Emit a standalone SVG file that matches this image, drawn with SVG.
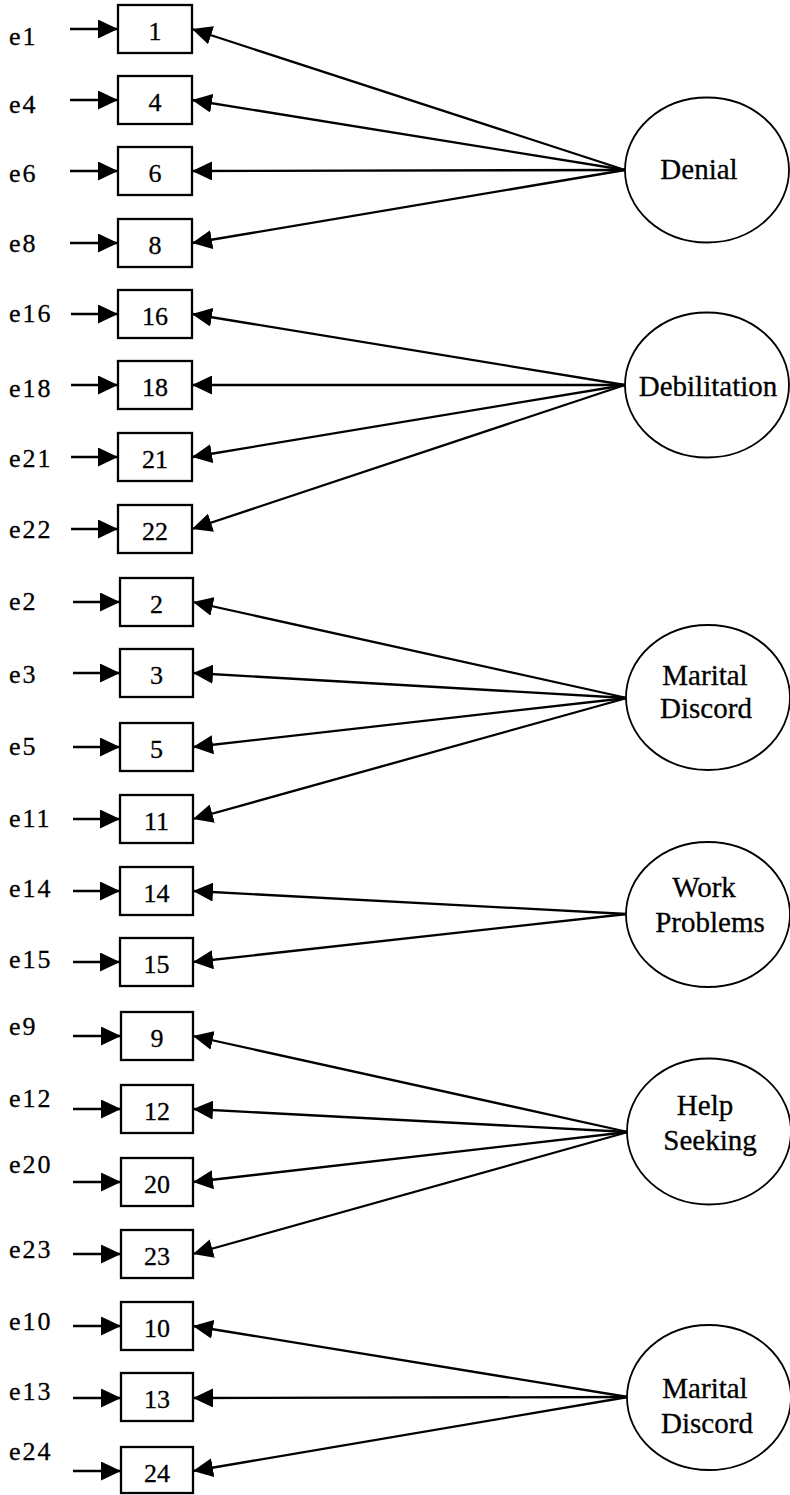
<svg xmlns="http://www.w3.org/2000/svg" width="790" height="1495" viewBox="0 0 790 1495">
<style>
.box{fill:#fff;stroke:#000;stroke-width:2.3}
.lat{fill:#fff;stroke:#000;stroke-width:1.8}
.num{font-family:"Liberation Serif","Times New Roman",serif;font-size:26px;text-anchor:middle;fill:#000;stroke:#000;stroke-width:0.3}
.err{font-family:"Liberation Serif","Times New Roman",serif;font-size:26px;letter-spacing:2px;fill:#000;stroke:#000;stroke-width:0.3}
.fac{font-family:"Liberation Serif","Times New Roman",serif;font-size:29px;text-anchor:middle;fill:#000;stroke:#000;stroke-width:0.3}
.c line{stroke:#000;stroke-width:2.3;marker-end:url(#ah)}
</style>
<defs>
<marker id="ah" markerUnits="userSpaceOnUse" markerWidth="21" markerHeight="19" refX="20" refY="9.5" orient="auto">
<path d="M0,0 L20,9.5 L0,19 z" fill="#000"/>
</marker>
</defs>
<rect width="790" height="1495" fill="#fff"/>

<g id="connectors" class="c">
<line x1="70" y1="29" x2="118" y2="29"/>
<line x1="70" y1="100" x2="118" y2="100"/>
<line x1="70" y1="171" x2="118" y2="171"/>
<line x1="70" y1="243" x2="118" y2="243"/>
<line x1="71" y1="314" x2="118" y2="314"/>
<line x1="71" y1="385" x2="118" y2="385"/>
<line x1="71" y1="457" x2="118" y2="457"/>
<line x1="71" y1="529" x2="118" y2="529"/>
<line x1="73" y1="602" x2="120" y2="602"/>
<line x1="73" y1="673" x2="120" y2="673"/>
<line x1="73" y1="747" x2="120" y2="747"/>
<line x1="73" y1="819" x2="120" y2="819"/>
<line x1="73" y1="891" x2="120" y2="891"/>
<line x1="73" y1="962" x2="120" y2="962"/>
<line x1="73" y1="1036" x2="121" y2="1036"/>
<line x1="73" y1="1109" x2="121" y2="1109"/>
<line x1="73" y1="1182" x2="121" y2="1182"/>
<line x1="73" y1="1254" x2="121" y2="1254"/>
<line x1="73" y1="1326" x2="121" y2="1326"/>
<line x1="73" y1="1398" x2="121" y2="1398"/>
<line x1="73" y1="1471" x2="121" y2="1471"/>
<line x1="625" y1="170" x2="192" y2="29"/>
<line x1="625" y1="170" x2="192" y2="100"/>
<line x1="625" y1="170" x2="192" y2="171"/>
<line x1="625" y1="170" x2="192" y2="243"/>
<line x1="625" y1="385" x2="192" y2="314"/>
<line x1="625" y1="385" x2="192" y2="385"/>
<line x1="625" y1="385" x2="192" y2="457"/>
<line x1="625" y1="385" x2="192" y2="529"/>
<line x1="627" y1="698" x2="193" y2="602"/>
<line x1="627" y1="698" x2="193" y2="673"/>
<line x1="627" y1="698" x2="193" y2="747"/>
<line x1="627" y1="698" x2="193" y2="819"/>
<line x1="627" y1="914" x2="193" y2="891"/>
<line x1="627" y1="914" x2="193" y2="962"/>
<line x1="628" y1="1132" x2="193" y2="1036"/>
<line x1="628" y1="1132" x2="193" y2="1109"/>
<line x1="628" y1="1132" x2="193" y2="1182"/>
<line x1="628" y1="1132" x2="193" y2="1254"/>
<line x1="628" y1="1397" x2="193" y2="1326"/>
<line x1="628" y1="1397" x2="193" y2="1398"/>
<line x1="628" y1="1397" x2="193" y2="1471"/>
</g>

<g id="item1"><rect class="box" x="118" y="5" width="74" height="48"/><text class="num" x="155" y="40">1</text><text class="err" x="9" y="45">e1</text></g>
<g id="item4"><rect class="box" x="118" y="76" width="74" height="48"/><text class="num" x="155" y="111">4</text><text class="err" x="9" y="113">e4</text></g>
<g id="item6"><rect class="box" x="118" y="147" width="74" height="48"/><text class="num" x="155" y="182">6</text><text class="err" x="9" y="182">e6</text></g>
<g id="item8"><rect class="box" x="118" y="219" width="74" height="48"/><text class="num" x="155" y="254">8</text><text class="err" x="9" y="252">e8</text></g>
<g id="item16"><rect class="box" x="118" y="290" width="74" height="48"/><text class="num" x="155" y="325">16</text><text class="err" x="9" y="322">e16</text></g>
<g id="item18"><rect class="box" x="118" y="361" width="74" height="48"/><text class="num" x="155" y="396">18</text><text class="err" x="9" y="397">e18</text></g>
<g id="item21"><rect class="box" x="118" y="433" width="74" height="48"/><text class="num" x="155" y="468">21</text><text class="err" x="9" y="467">e21</text></g>
<g id="item22"><rect class="box" x="118" y="505" width="74" height="48"/><text class="num" x="155" y="540">22</text><text class="err" x="9" y="538">e22</text></g>
<g id="item2"><rect class="box" x="120" y="578" width="73" height="48"/><text class="num" x="156.5" y="613">2</text><text class="err" x="9" y="610">e2</text></g>
<g id="item3"><rect class="box" x="120" y="649" width="73" height="48"/><text class="num" x="156.5" y="684">3</text><text class="err" x="9" y="683">e3</text></g>
<g id="item5"><rect class="box" x="120" y="723" width="73" height="48"/><text class="num" x="156.5" y="758">5</text><text class="err" x="9" y="755">e5</text></g>
<g id="item11"><rect class="box" x="120" y="795" width="73" height="48"/><text class="num" x="156.5" y="830">11</text><text class="err" x="9" y="827">e11</text></g>
<g id="item14"><rect class="box" x="120" y="867" width="73" height="48"/><text class="num" x="156.5" y="902">14</text><text class="err" x="9" y="897">e14</text></g>
<g id="item15"><rect class="box" x="120" y="938" width="73" height="48"/><text class="num" x="156.5" y="973">15</text><text class="err" x="9" y="968">e15</text></g>
<g id="item9"><rect class="box" x="121" y="1012" width="72" height="48"/><text class="num" x="157" y="1047">9</text><text class="err" x="9" y="1035">e9</text></g>
<g id="item12"><rect class="box" x="121" y="1085" width="72" height="48"/><text class="num" x="157" y="1120">12</text><text class="err" x="9" y="1107">e12</text></g>
<g id="item20"><rect class="box" x="121" y="1158" width="72" height="48"/><text class="num" x="157" y="1193">20</text><text class="err" x="9" y="1173">e20</text></g>
<g id="item23"><rect class="box" x="121" y="1230" width="72" height="48"/><text class="num" x="157" y="1265">23</text><text class="err" x="9" y="1258">e23</text></g>
<g id="item10"><rect class="box" x="121" y="1302" width="72" height="48"/><text class="num" x="157" y="1337">10</text><text class="err" x="9" y="1330">e10</text></g>
<g id="item13"><rect class="box" x="121" y="1373" width="72" height="48"/><text class="num" x="157" y="1408">13</text><text class="err" x="9" y="1400">e13</text></g>
<g id="item24"><rect class="box" x="121" y="1447" width="72" height="46"/><text class="num" x="157" y="1482">24</text><text class="err" x="9" y="1460">e24</text></g>

<g id="denial"><ellipse class="lat" cx="707" cy="170" rx="82" ry="72.5"/><text class="fac" x="699" y="179">Denial</text></g>
<g id="debilitation"><ellipse class="lat" cx="707" cy="385" rx="82" ry="72.5"/><text class="fac" x="708" y="396">Debilitation</text></g>
<g id="marital1"><ellipse class="lat" cx="708" cy="697.5" rx="82" ry="72.5"/><text class="fac" x="705" y="685">Marital</text><text class="fac" x="706" y="718">Discord</text></g>
<g id="work"><ellipse class="lat" cx="708" cy="914.5" rx="82" ry="72.5"/><text class="fac" x="704" y="897">Work</text><text class="fac" x="710" y="932">Problems</text></g>
<g id="help"><ellipse class="lat" cx="709" cy="1131.5" rx="82" ry="73"/><text class="fac" x="705" y="1115">Help</text><text class="fac" x="710" y="1150">Seeking</text></g>
<g id="marital2"><ellipse class="lat" cx="709" cy="1397.5" rx="82" ry="72.5"/><text class="fac" x="705" y="1398">Marital</text><text class="fac" x="707" y="1433">Discord</text></g>
</svg>
